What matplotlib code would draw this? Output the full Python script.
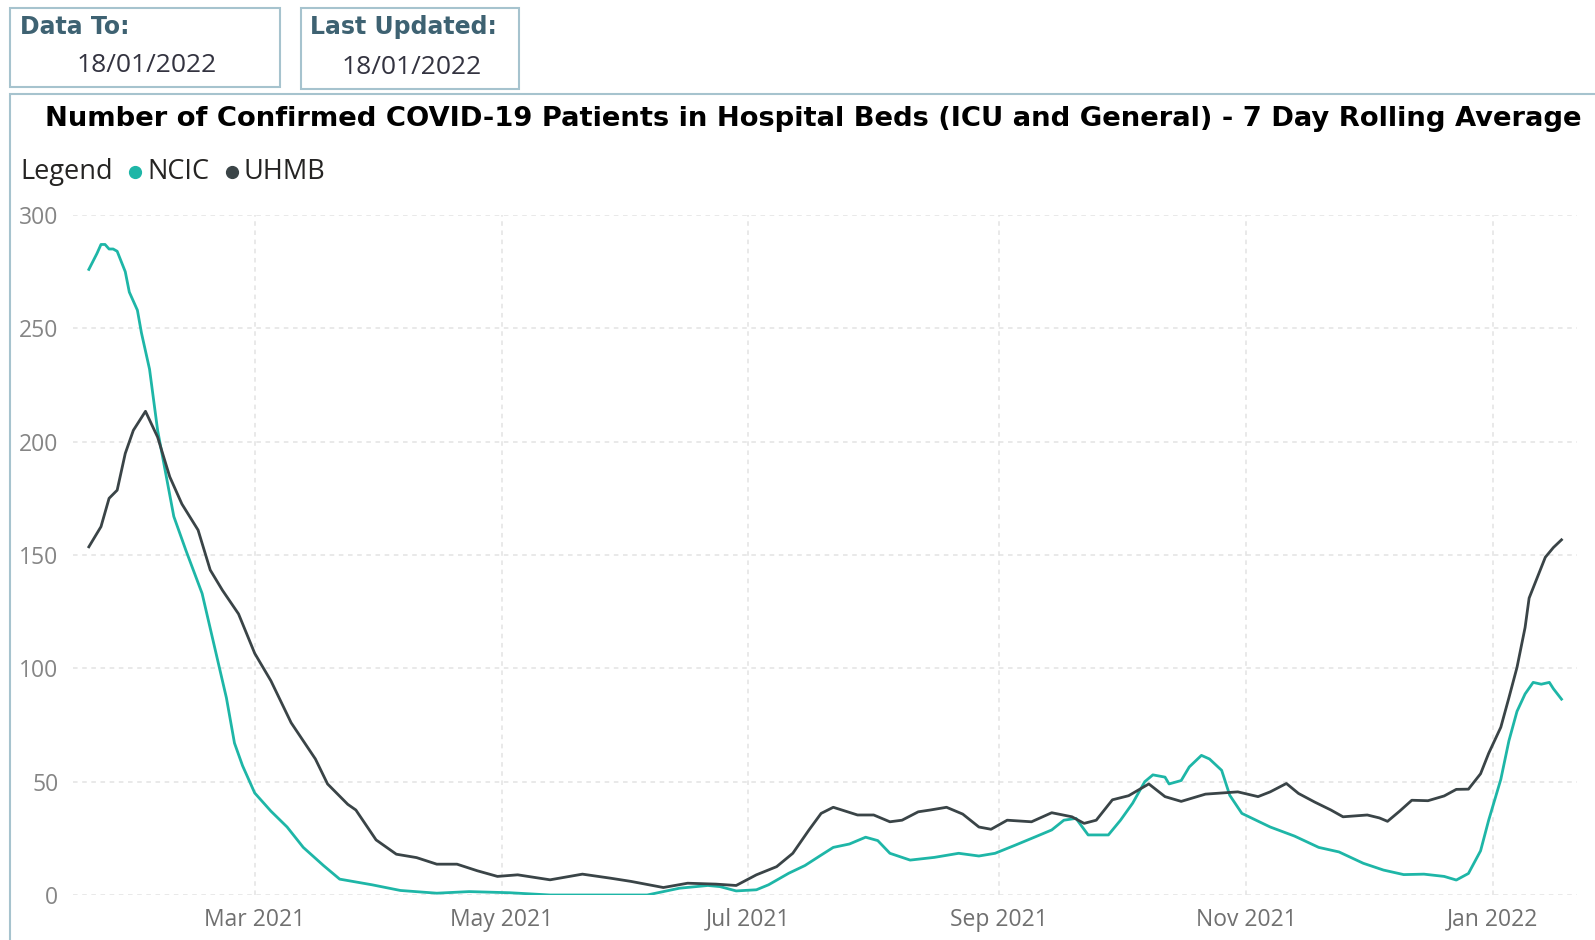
import matplotlib
matplotlib.use("Agg")
import matplotlib.pyplot as plt
import matplotlib.dates as mdates
from matplotlib.patches import Rectangle
from matplotlib.lines import Line2D
import pandas as pd

# values (7 day rolling average, patients in beds)
ncic_dates = [
    "2021-01-19", "2021-01-21", "2021-01-22", "2021-01-23", "2021-01-24", "2021-01-25",
    "2021-01-26", "2021-01-28", "2021-01-29", "2021-01-31", "2021-02-01", "2021-02-03",
    "2021-02-05", "2021-02-07", "2021-02-09", "2021-02-12", "2021-02-16", "2021-02-19",
    "2021-02-22", "2021-02-24", "2021-02-26", "2021-03-01", "2021-03-05", "2021-03-09",
    "2021-03-13", "2021-03-18", "2021-03-22", "2021-03-30", "2021-04-06", "2021-04-15",
    "2021-04-23", "2021-05-03", "2021-05-13", "2021-06-06", "2021-06-10", "2021-06-14",
    "2021-06-21", "2021-06-24", "2021-06-28", "2021-07-03", "2021-07-06", "2021-07-11",
    "2021-07-15", "2021-07-19", "2021-07-22", "2021-07-26", "2021-07-30", "2021-08-02",
    "2021-08-05", "2021-08-10", "2021-08-16", "2021-08-22", "2021-08-27", "2021-08-31",
    "2021-09-05", "2021-09-10", "2021-09-14", "2021-09-17", "2021-09-20", "2021-09-23",
    "2021-09-28", "2021-10-01", "2021-10-04", "2021-10-07", "2021-10-09", "2021-10-12",
    "2021-10-13", "2021-10-16", "2021-10-18", "2021-10-21", "2021-10-23", "2021-10-26",
    "2021-10-28", "2021-10-31", "2021-11-07", "2021-11-13", "2021-11-19", "2021-11-24",
    "2021-11-30", "2021-12-05", "2021-12-10", "2021-12-15", "2021-12-20", "2021-12-23",
    "2021-12-26", "2021-12-29", "2021-12-31", "2022-01-03", "2022-01-05", "2022-01-07",
    "2022-01-09", "2022-01-11", "2022-01-13", "2022-01-15", "2022-01-16", "2022-01-18",
]
ncic_values = [
    276, 283, 287, 287, 285, 285,
    284, 275, 266, 258, 248, 232,
    205, 186, 167, 152, 133, 110,
    87, 67, 57, 45, 37, 30,
    21, 13, 7, 4.5, 2, 0.8,
    1.5, 1, 0, 0, 1.5, 3,
    4.2, 3.7, 1.8, 2.3, 4.5, 9.6,
    13, 17.6, 21, 22.5, 25.5, 24,
    18.4, 15.4, 16.6, 18.4, 17.2, 18.4,
    22, 25.7, 28.7, 33, 33.8, 26.5,
    26.5, 33, 40.5, 50, 53, 52,
    49, 50.5, 56.5, 61.6, 60, 55,
    44, 36, 30, 26, 21, 19,
    14, 11, 9, 9.2, 8.2, 6.6,
    9.5, 19.5, 33, 51, 68, 81,
    88.7, 93.8, 93, 93.8, 91, 86.4,
]

uhmb_dates = [
    "2021-01-19", "2021-01-22", "2021-01-24", "2021-01-26", "2021-01-28", "2021-01-30",
    "2021-02-02", "2021-02-05", "2021-02-08", "2021-02-11", "2021-02-15", "2021-02-18",
    "2021-02-21", "2021-02-25", "2021-03-01", "2021-03-05", "2021-03-10", "2021-03-16",
    "2021-03-19", "2021-03-24", "2021-03-26", "2021-03-31", "2021-04-05", "2021-04-10",
    "2021-04-15", "2021-04-20", "2021-04-25", "2021-04-30", "2021-05-05", "2021-05-13",
    "2021-05-21", "2021-05-28", "2021-06-02", "2021-06-10", "2021-06-16", "2021-06-23",
    "2021-06-28", "2021-07-03", "2021-07-08", "2021-07-12", "2021-07-16", "2021-07-19",
    "2021-07-22", "2021-07-28", "2021-08-01", "2021-08-05", "2021-08-08", "2021-08-12",
    "2021-08-15", "2021-08-19", "2021-08-23", "2021-08-27", "2021-08-30", "2021-09-03",
    "2021-09-09", "2021-09-14", "2021-09-19", "2021-09-22", "2021-09-25", "2021-09-29",
    "2021-10-03", "2021-10-08", "2021-10-12", "2021-10-16", "2021-10-22", "2021-10-30",
    "2021-11-04", "2021-11-07", "2021-11-11", "2021-11-14", "2021-11-18", "2021-11-22",
    "2021-11-25", "2021-12-01", "2021-12-04", "2021-12-06", "2021-12-09", "2021-12-12",
    "2021-12-16", "2021-12-20", "2021-12-23", "2021-12-26", "2021-12-29", "2021-12-31",
    "2022-01-03", "2022-01-05", "2022-01-07", "2022-01-09", "2022-01-10", "2022-01-12",
    "2022-01-14", "2022-01-16", "2022-01-18",
]
uhmb_values = [
    153.6, 162.5, 175, 178.6, 194.8, 205,
    213.4, 202, 184.5, 172.5, 161, 143.4,
    134.5, 124, 106.6, 94.5, 76, 60,
    49, 40, 37.5, 24.3, 18, 16.5,
    13.6, 13.6, 10.7, 8.2, 8.9, 6.7,
    9.2, 7.4, 6, 3.3, 5.2, 4.8,
    4.2, 8.9, 12.5, 18.4, 28.7, 36,
    38.7, 35.3, 35.3, 32.3, 33, 36.7,
    37.5, 38.7, 35.7, 30, 29, 33,
    32.3, 36.3, 34.5, 31.6, 33, 42,
    43.8, 49, 43.4, 41.3, 44.5, 45.5,
    43.4, 45.5, 49.2, 44.8, 41, 37.5,
    34.5, 35.3, 34, 32.5, 37, 41.8,
    41.6, 43.7, 46.6, 46.7, 53.5, 62.5,
    74, 87, 100.4, 118, 131, 140,
    149, 153.3, 156.7,
]

series_names = ["NCIC", "UHMB"]
series_colors = ["#1EB6A7", "#3A4447"]

chart_title = ("Number of Confirmed COVID-19 Patients in Hospital Beds "
               "(ICU and General) - 7 Day Rolling Average")
data_to = "18/01/2022"
last_updated = "18/01/2022"

W, H = 1595, 940
BORDER = "#A6C3CE"
LABEL_BLUE = "#3E6272"


def fx(x):
    return x / W


def fy(y):
    return 1 - y / H


fig = plt.figure(figsize=(W / 100, H / 100), dpi=100)
fig.patch.set_facecolor("white")

# header boxes and chart panel frame
for x0, y0, x1, y1 in [(10, 8, 280, 86.5), (301, 8, 519, 88.5), (10, 93.5, 1700, 1000)]:
    fig.add_artist(Rectangle((fx(x0), fy(y1)), fx(x1 - x0), (y1 - y0) / H,
                             transform=fig.transFigure, fill=False,
                             edgecolor=BORDER, linewidth=1.5))

fig.text(fx(20), fy(27), "Data To:", fontsize=17, fontweight="bold",
         family="DejaVu Sans", color=LABEL_BLUE, va="center", ha="left")
fig.text(fx(147), fy(66), data_to, fontsize=19, family="Open Sans",
         color="#333340", va="center", ha="center")
fig.text(fx(310), fy(27), "Last Updated:", fontsize=17, fontweight="bold",
         family="DejaVu Sans", color=LABEL_BLUE, va="center", ha="left")
fig.text(fx(412), fy(68), last_updated, fontsize=19, family="Open Sans",
         color="#333340", va="center", ha="center")

fig.text(fx(45), fy(119), chart_title, fontsize=19.7, fontweight="bold",
         family="DejaVu Sans", color="black", va="center", ha="left")

# legend row
fig.text(fx(20), fy(172), "Legend", fontsize=19.5, family="Open Sans",
         color="#252423", va="center", ha="left")
for name, color, mx, tx in zip(series_names, series_colors, [135, 232], [147, 244]):
    fig.add_artist(Line2D([fx(mx)], [fy(172)], transform=fig.transFigure,
                          marker="o", markersize=8.5, color=color, linestyle="none"))
    fig.text(fx(tx), fy(172), name, fontsize=19.5, family="Open Sans",
             color="#252423", va="center", ha="left")

ax = fig.add_axes([fx(73), fy(895), fx(1577 - 73), (895 - 215) / H])

ax.plot(pd.to_datetime(ncic_dates), ncic_values, color=series_colors[0],
        linewidth=2, solid_joinstyle="round")
ax.plot(pd.to_datetime(uhmb_dates), uhmb_values, color=series_colors[1],
        linewidth=2, solid_joinstyle="round")

ax.set_ylim(0, 300)
ax.set_yticks(range(0, 301, 50))
ax.set_xlim(pd.Timestamp("2021-01-15 02:00"), pd.Timestamp("2022-01-21 20:00"))
ax.xaxis.set_major_locator(mdates.MonthLocator(bymonth=[1, 3, 5, 7, 9, 11]))
ax.xaxis.set_major_formatter(mdates.DateFormatter("%b %Y"))

ax.grid(True, color="#E3E3E3", linestyle=(0, (3, 3)), linewidth=1.1)
ax.set_axisbelow(True)
for s in ax.spines.values():
    s.set_visible(False)
ax.tick_params(length=0)
ax.tick_params(axis="y", pad=10.5, labelsize=16.5, labelcolor="#858585")
ax.tick_params(axis="x", pad=9, labelsize=16.5, labelcolor="#707070")
for lab in ax.get_xticklabels() + ax.get_yticklabels():
    lab.set_family("Open Sans")

fig.savefig("out.png", dpi=100, facecolor="white")
